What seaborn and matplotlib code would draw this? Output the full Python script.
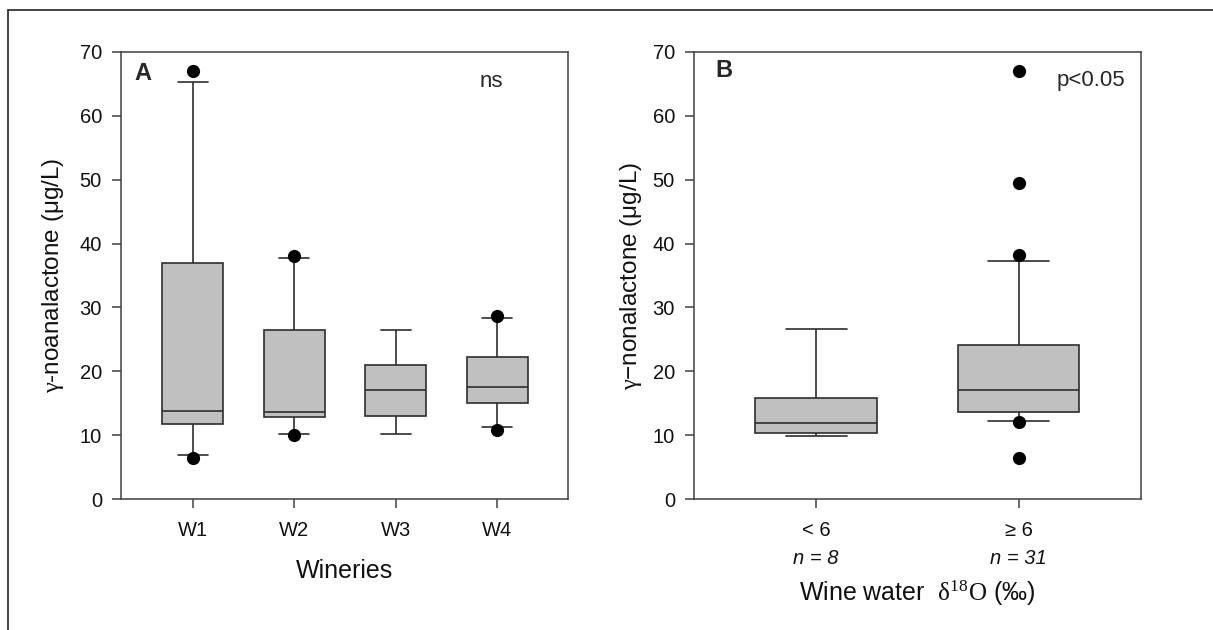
import numpy as np
import pandas as pd
import matplotlib
matplotlib.use("Agg")
import matplotlib.pyplot as plt
from matplotlib.lines import Line2D
import seaborn as sns

# ---------------- data ----------------
# Panel A: wineries
wineries = ["W1", "W2", "W3", "W4"]
a_whislo = [7.0, 10.2, 10.2, 11.3]
a_q1 = [11.8, 12.8, 13.1, 15.1]
a_med = [13.8, 13.7, 17.1, 17.6]
a_q3 = [36.9, 26.5, 21.0, 22.3]
a_whishi = [65.2, 37.7, 26.5, 28.4]
a_out_cat = ["W1", "W1", "W2", "W2", "W4", "W4"]
a_out_val = [67.0, 6.5, 38.1, 10.0, 28.7, 10.9]

# Panel B: wine water d18O groups
groups = ["< 6", "≥ 6"]
group_n = [8, 31]
b_whislo = [9.9, 12.2]
b_q1 = [10.4, 13.6]
b_med = [12.0, 17.1]
b_q3 = [15.9, 24.1]
b_whishi = [26.6, 37.3]
b_out_cat = ["≥ 6", "≥ 6", "≥ 6", "≥ 6", "≥ 6"]
b_out_val = [67.0, 49.5, 38.2, 12.1, 6.5]

y_ticks = [0, 10, 20, 30, 40, 50, 60, 70]

# ---------------- style ----------------
sns.set_theme(style="ticks")
plt.rcParams["font.family"] = ["Liberation Sans", "DejaVu Sans"]
plt.rcParams["mathtext.fontset"] = "custom"
plt.rcParams["mathtext.rm"] = "Liberation Serif"
plt.rcParams["mathtext.it"] = "Liberation Serif:italic"

SPINE = "#404040"
BOXEDGE = "#2e2e2e"
FILL = "#c0c0c0"
TXT = "#111111"


def five_number_frame(cats, lo, q1, med, q3, hi):
    # five values per category: with linear percentiles, 25/50/75 fall exactly on q1/med/q3
    rows = []
    for c, a, b, m, d, e in zip(cats, lo, q1, med, q3, hi):
        for v in (a, b, m, d, e):
            rows.append({"cat": c, "val": v})
    return pd.DataFrame(rows)


def draw_panel(ax, cats, lo, q1, med, q3, hi, out_cat, out_val, xlim):
    df = five_number_frame(cats, lo, q1, med, q3, hi)
    sns.boxplot(data=df, x="cat", y="val", order=cats, whis=(0, 100),
                width=0.6, color=FILL, saturation=1, linecolor=BOXEDGE,
                linewidth=1.2, showfliers=False, ax=ax)
    sns.stripplot(x=out_cat, y=out_val, order=cats, jitter=False,
                  color="black", size=9.5, linewidth=0, ax=ax, zorder=5)
    ax.set_xlim(*xlim)
    ax.set_ylim(0, 70)
    ax.set_yticks(y_ticks)
    for s in ax.spines.values():
        s.set_visible(True)
        s.set_color(SPINE)
        s.set_linewidth(1.1)
    ax.tick_params(axis="both", direction="out", length=6.5, width=1.1,
                   color=SPINE, labelsize=14.5, labelcolor=TXT)
    ax.tick_params(axis="y", pad=7)
    ax.tick_params(axis="x", pad=9)
    ax.tick_params(top=False, right=False)


fig = plt.figure(figsize=(12.13, 6.30), dpi=100)
axA = fig.add_axes([120.7 / 1213, (630 - 499.3) / 630, 447.6 / 1213, 447.6 / 630])
axB = fig.add_axes([693.7 / 1213, (630 - 499.3) / 630, 447.3 / 1213, 447.6 / 630])

# Panel A
draw_panel(axA, wineries, a_whislo, a_q1, a_med, a_q3, a_whishi,
           a_out_cat, a_out_val, (-0.71, 3.70))
axA.set_xlabel("Wineries", fontsize=18, labelpad=14, color=TXT)
axA.set_ylabel(r"$\mathrm{γ}$-noanalactone (μg/L)", fontsize=17.5,
               labelpad=10, color=TXT)
axA.text(0.049, 0.952, "A", transform=axA.transAxes, fontsize=17,
         fontweight="bold", ha="center", va="center")
axA.text(0.827, 0.933, "ns", transform=axA.transAxes, fontsize=16,
         ha="center", va="center")

# Panel B
draw_panel(axB, groups, b_whislo, b_q1, b_med, b_q3, b_whishi,
           b_out_cat, b_out_val, (-0.605, 1.604))
axB.set_xlabel(r"Wine water  $\mathrm{δ^{18}O}$ (‰)", fontsize=18,
               labelpad=28, color=TXT)
axB.set_ylabel(r"$\mathrm{γ}$−nonalactone (μg/L)", fontsize=17.5,
               labelpad=6, color=TXT)
for i, n in enumerate(group_n):
    axB.text(i, -0.133, f"n = {n}", transform=axB.get_xaxis_transform(),
             fontsize=14.5, style="italic", ha="center", va="center",
             color=TXT)
axB.text(0.068, 0.958, "B", transform=axB.transAxes, fontsize=17,
         fontweight="bold", ha="center", va="center")
axB.text(0.887, 0.936, "p<0.05", transform=axB.transAxes, fontsize=16,
         ha="center", va="center")

# outer frame (left and top edges)
x0 = 7.5 / 1213
y0 = 1 - 9.5 / 630
fig.add_artist(Line2D([x0, x0], [0, y0], color="#222222", lw=1.2,
                      transform=fig.transFigure))
fig.add_artist(Line2D([x0, 1], [y0, y0], color="#222222", lw=1.2,
                      transform=fig.transFigure))

fig.savefig("out.png", dpi=100)
